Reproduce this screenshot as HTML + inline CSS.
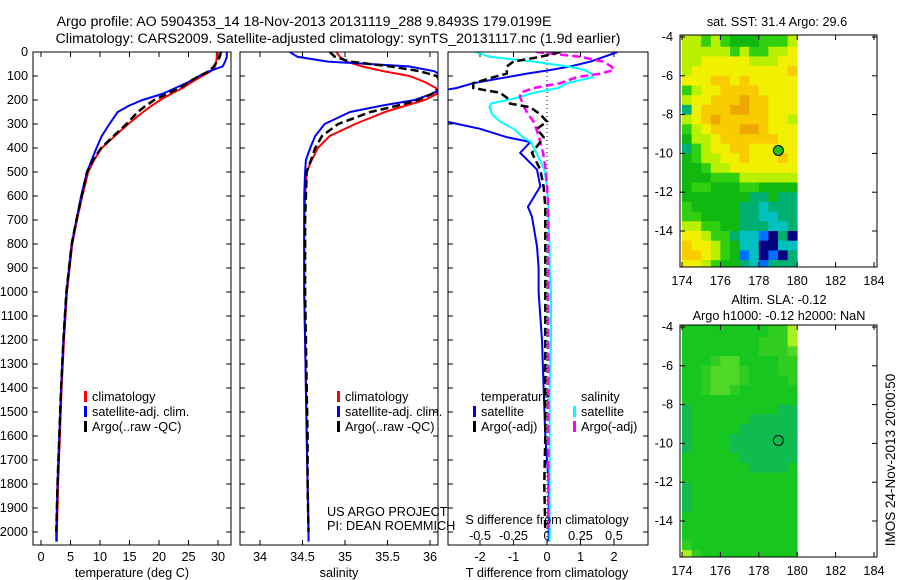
<!DOCTYPE html>
<html><head><meta charset="utf-8"><style>
body{margin:0;background:#fff}
svg{display:block;font-family:"Liberation Sans",sans-serif;font-size:12.7px}
</style></head><body>
<svg id="fig" width="900" height="580" viewBox="0 0 900 580" xmlns="http://www.w3.org/2000/svg">
<text x="304" y="26" text-anchor="middle" font-size="14.2">Argo profile: AO 5904353_14 18-Nov-2013 20131119_288 9.8493S 179.0199E</text>
<text x="338" y="43" text-anchor="middle" font-size="14.2">Climatology: CARS2009. Satellite-adjusted climatology: synTS_20131117.nc (1.9d earlier)</text>
<g id="g"></g>
</svg>
<script>
// ---- data ----
const depths=[0,20,40,60,80,100,125,150,175,200,225,250,300,350,400,450,500,600,700,800,1000,1200,1400,1600,1800,2000,2040];
const tempClim=[29.8,29.8,29.7,29.5,28.8,27.3,25.6,24,22,20.2,18.7,17.3,14.8,12.5,10.3,9,8,7,6.1,5.3,4.4,3.9,3.5,3.2,2.9,2.7,2.7];
const tempSat=[31.5,31.5,31.2,30.8,28.5,26.8,25,22.8,20.5,17.2,14.8,13,11.6,10.3,9.4,8.6,7.8,6.8,6,5.2,4.3,3.8,3.4,3.1,2.8,2.6,2.6];
const tempArgo=[30.5,30.3,29.8,29.3,28.5,26.8,25.1,23.5,21.3,19.2,17.7,16.4,14.5,12.3,10.2,8.8,7.8,6.9,6,5.2,4.3,3.8,3.4,3.1,2.8,2.6,null];
const salClim=[34.9,34.94,35.02,35.2,35.45,35.76,35.94,36.07,36.08,35.94,35.7,35.47,35.12,34.82,34.68,34.61,34.55,34.53,34.52,34.52,34.52,34.53,34.54,34.55,34.56,34.57,34.57];
const salSat=[34.35,34.44,34.8,35.75,36.05,36.15,36.15,36.15,36.02,35.82,35.41,35.06,34.76,34.65,34.59,34.54,34.53,34.52,34.52,34.52,34.52,34.53,34.54,34.55,34.56,34.57,34.57];
const salArgo=[34.82,34.88,35.06,35.53,35.88,36.08,36.12,36.12,36.02,35.86,35.6,35.3,34.92,34.73,34.65,34.6,34.55,34.54,34.53,34.53,34.53,34.54,34.55,34.56,34.56,34.57,null];
const diffDepths=[0,20,40,60,75,90,105,130,150,170,190,215,230,260,290,320,355,375,420,490,560,645,685,810,900,1000,1100,1200,1400,1600,1800,2000,2040];
const tDiffSat=[2.1,1.7,1.3,0.7,0.1,-0.6,-1.2,-2.2,-2.7,-3.5,-3.5,-3.5,-3.5,-3.5,-3.0,-2.0,-1.2,-0.5,-0.8,-0.3,-0.2,-0.57,-0.45,-0.3,-0.25,-0.25,-0.2,-0.15,-0.1,-0.05,0.05,0.05,0.05];
const tDiffArgo=[0.4,-0.2,-1.0,-1.2,-1.2,-1.2,-1.6,-2.2,-2.2,-1.4,-1.2,-1.1,-0.5,-0.2,0.0,-0.3,-0.1,-0.2,-0.45,-0.2,-0.1,-0.05,-0.05,-0.05,-0.05,-0.05,-0.05,-0.05,-0.05,-0.05,-0.08,-0.05,null];
const sDiffSat=[-0.53,-0.43,-0.1,0.15,0.28,0.33,0.34,0.15,0.08,-0.1,-0.22,-0.42,-0.43,-0.41,-0.35,-0.25,-0.18,-0.12,-0.08,-0.02,0,0.01,0.01,0.02,0.02,0.03,0.03,0.03,0.02,0.02,0.02,0.02,0.02];
const sDiffArgo=[-0.08,0.25,0.42,0.48,0.5,0.4,0.22,0.1,-0.1,-0.2,-0.2,-0.18,-0.17,-0.14,-0.1,-0.08,-0.06,-0.05,-0.03,-0.01,0,0.01,0.01,0.01,0.01,0.01,0.01,0.01,0.01,0.01,0.01,0.01,null];
const depthTicks=[0,100,200,300,400,500,600,700,800,900,1000,1100,1200,1300,1400,1500,1600,1700,1800,1900,2000];
const tempTicks=[0,5,10,15,20,25,30];
const salTicks=[34,34.5,35,35.5,36];
const tDiffTicks=[-2,-1,0,1,2];
const sDiffTicks=[-0.5,-0.25,0,0.25,0.5];
const sstGrid=[
"665654445556","666665655667","667777766677","677777777778","777887877777","567788887777",
"677888988777","378889988777","678988888776","567888998777","466788888877","356778877777",
"456677877787","445667777777","444555666666","455444554444","444444433433","544444332333",
"554444332233","665544333223","776553221030","877654220022","887654120103","776544321333"];
const slaGrid=[
"111111111224","111111112224","111111112223","111233111122","112333211122","112333211112",
"112332111111","111111111111","011111111100","011111100000","011111000000","011110000000",
"011110000000","111111000000","111111100001","111111111111","011111111111","011111111111",
"011111111111","111111111111","111111111111","111111111111","211111111111","421111111111"];
const lonTicks=[174,176,178,180,182,184];
const latTicks=[-4,-6,-8,-10,-12,-14];
const argoLon=179.02, argoLat=-9.85;

// ---- helpers ----
const NS='http://www.w3.org/2000/svg';
const G=document.getElementById('g');
function mk(tag,attrs,parent){const e=document.createElementNS(NS,tag);for(const k in attrs)e.setAttribute(k,attrs[k]);(parent||G).appendChild(e);return e;}
const Y0=52,YS=0.24;
function yD(d){return Y0+d*YS;}
function lin(d0,d1,r0,r1){return v=>r0+(v-d0)*(r1-r0)/(d1-d0);}
const xT=lin(0,30,41,218), xS=lin(34,36,260,430), xTd=lin(0,1,547,580.5), xSd=lin(0,0.25,547,580.5);
const panels=[{x:33,w:198},{x:240,w:198},{x:448,w:200}];
const PY=52,PH=493;
const defs=mk('defs',{});
panels.forEach((p,i)=>{const c=mk('clipPath',{id:'c'+i},defs);mk('rect',{x:p.x,y:PY,width:p.w,height:PH},c);});
function line(ds,vals,xf,clip,color,dash,w,name){
  let d='';let pen=false;
  for(let i=0;i<ds.length;i++){if(vals[i]===null){pen=false;continue;}
    d+=(pen?'L':'M')+xf(vals[i]).toFixed(1)+','+yD(ds[i]).toFixed(1);pen=true;}
  const e=mk('path',{d:d,fill:'none',stroke:color,'stroke-width':w,'clip-path':'url(#c'+clip+')'});
  if(dash)e.setAttribute('stroke-dasharray',dash);
  
  
}
function txt(x,y,s,anchor,name,size){const e=mk('text',{x:x,y:y,'text-anchor':anchor||'start'});if(size)e.setAttribute('font-size',size);e.textContent=s;
  
  return e;}
function frame(x,y,w,h,name){const e=mk('rect',{x:x,y:y,width:w,height:h,fill:'none',stroke:'#000','stroke-width':1});
  
  }
// ---- profile panels ----
panels.forEach((p,i)=>{
  depthTicks.forEach(d=>{const y=yD(d);
    mk('line',{x1:p.x,x2:p.x+5,y1:y,y2:y,stroke:'#000'});mk('line',{x1:p.x+p.w,x2:p.x+p.w-5,y1:y,y2:y,stroke:'#000'});
    if(i===0)txt(28,y+4,String(d),'end','depth-tick-label');});
});
[[tempTicks,xT,0],[salTicks,xS,1],[tDiffTicks,xTd,2]].forEach(([ticks,f,i])=>{
  ticks.forEach(t=>{const x=f(t);mk('line',{x1:x,x2:x,y1:PY,y2:PY+5,stroke:'#000'});mk('line',{x1:x,x2:x,y1:PY+PH,y2:PY+PH-5,stroke:'#000'});
    txt(x,561,String(t),'middle','x-tick-label');});
});
sDiffTicks.forEach(t=>txt(xSd(t),540,String(t),'middle','s-diff-tick-label'));
mk('line',{x1:547,x2:547,y1:PY,y2:PY+PH,stroke:'#000','stroke-dasharray':'1,3'});
line(depths,tempClim,xT,0,'#ff0000',null,2,'temp-climatology-line');
line(depths,tempSat,xT,0,'#0000ff',null,2,'temp-satellite-line');
line(depths,tempArgo,xT,0,'#000',"8,4",2.5,'temp-argo-line');
line(depths,salClim,xS,1,'#ff0000',null,2,'sal-climatology-line');
line(depths,salSat,xS,1,'#0000ff',null,2,'sal-satellite-line');
line(depths,salArgo,xS,1,'#000',"8,4",2.5,'sal-argo-line');
line(diffDepths,tDiffSat,xTd,2,'#0000ff',null,2,'tdiff-satellite-line');
line(diffDepths,sDiffSat,xSd,2,'#00ffff',null,2,'sdiff-satellite-line');
line(diffDepths,sDiffArgo,xSd,2,'#ff00ff',"8,4",2.5,'sdiff-argo-line');
line(diffDepths,tDiffArgo,xTd,2,'#000',"8,4",2.5,'tdiff-argo-line');
panels.forEach((p,i)=>frame(p.x,PY,p.w,PH,'profile-panel-frame'));
txt(132,577,'temperature (deg C)','middle','temperature-axis-title');
txt(339,577,'salinity','middle','salinity-axis-title');
txt(547,577,'T difference from climatology','middle','t-diff-axis-title');
txt(547,524,'S difference from climatology','middle','s-diff-axis-title');
function leg(x,y,color,label){mk('rect',{x:x,y:y-10,width:3,height:11,fill:color});txt(x+8,y,label,'start','legend-entry');}
leg(84,401,'#ff0000','climatology');leg(84,416,'#0000ff','satellite-adj. clim.');leg(84,431,'#000','Argo(..raw -QC)');
leg(337,401,'#ff0000','climatology');leg(337,416,'#0000ff','satellite-adj. clim.');leg(337,431,'#000','Argo(..raw -QC)');
txt(481,401,'temperature','start','legend-heading');txt(581,401,'salinity','start','legend-heading');
leg(473,416,'#0000ff','satellite');leg(473,431,'#000','Argo(-adj)');
leg(573,416,'#00ffff','satellite');leg(573,431,'#ff00ff','Argo(-adj)');
txt(327,516,'US ARGO PROJECT','start','project-label');txt(327,530,'PI: DEAN ROEMMICH','start','pi-label');
// ---- maps ----
const sstCol=['#000080','#0070ff','#00c0c0','#00b070','#10b810','#30d010','#b8f000','#f0f000','#f8cc00','#f0a800'];
const slaCol=['#10bc50','#18c620','#30cc20','#50d828','#a8f020'];
const xL=lin(174,184,682,874);
function map(top,grid,cols,name){
  const yL=lin(-4,-14,top+2,top+196);
  const c=mk('clipPath',{id:'m'+top},defs);mk('rect',{x:680,y:top,width:197,height:232},c);
  const gg=mk('g',{'clip-path':'url(#m'+top+')'});
  
  
  grid.forEach((row,r)=>{for(let k=0;k<row.length;k++){const lo=174+k*0.5,la=-4-r*0.5;
    const x0=xL(lo),y0=yL(la);const e=mk('rect',{x:x0.toFixed(1),y:y0.toFixed(1),width:(xL(lo+0.5)-x0+0.4).toFixed(1),height:(yL(la-0.5)-y0+0.4).toFixed(1),fill:cols[+row[k]]},gg);
    if(r===0){e.setAttribute('y',top);e.setAttribute('height',(yL(la-0.5)-top+0.4).toFixed(1));}
  }});
  frame(680,top,197,232,'map-frame');
  lonTicks.forEach(t=>{const x=xL(t);mk('line',{x1:x,x2:x,y1:top,y2:top+5,stroke:'#000'});mk('line',{x1:x,x2:x,y1:top+232,y2:top+227,stroke:'#000'});txt(x,top+250,String(t),'middle','lon-tick-label');});
  latTicks.forEach(t=>{const y=yL(t);mk('line',{x1:680,x2:685,y1:y,y2:y,stroke:'#000'});mk('line',{x1:877,x2:872,y1:y,y2:y,stroke:'#000'});txt(673,y+4,String(t),'end','lat-tick-label');});
  return yL;
}
const y1=map(35,sstGrid,sstCol,'sst-map');
mk('circle',{cx:xL(argoLon),cy:y1(argoLat),r:5,fill:'#20c020',stroke:'#000'});
const y2=map(325,slaGrid,slaCol,'sla-map');
mk('circle',{cx:xL(argoLon),cy:y2(argoLat),r:5,fill:'none',stroke:'#000'});
txt(777,26,'sat. SST: 31.4 Argo: 29.6','middle','sst-map-title');
txt(779,304,'Altim. SLA: -0.12','middle','sla-map-title');
txt(779,320,'Argo h1000: -0.12 h2000: NaN','middle','sla-map-subtitle');
const r=txt(0,0,'IMOS 24-Nov-2013 20:00:50','middle','timestamp-label',13.5);
r.setAttribute('transform','translate(895,460) rotate(-90)');
</script>
</body></html>
